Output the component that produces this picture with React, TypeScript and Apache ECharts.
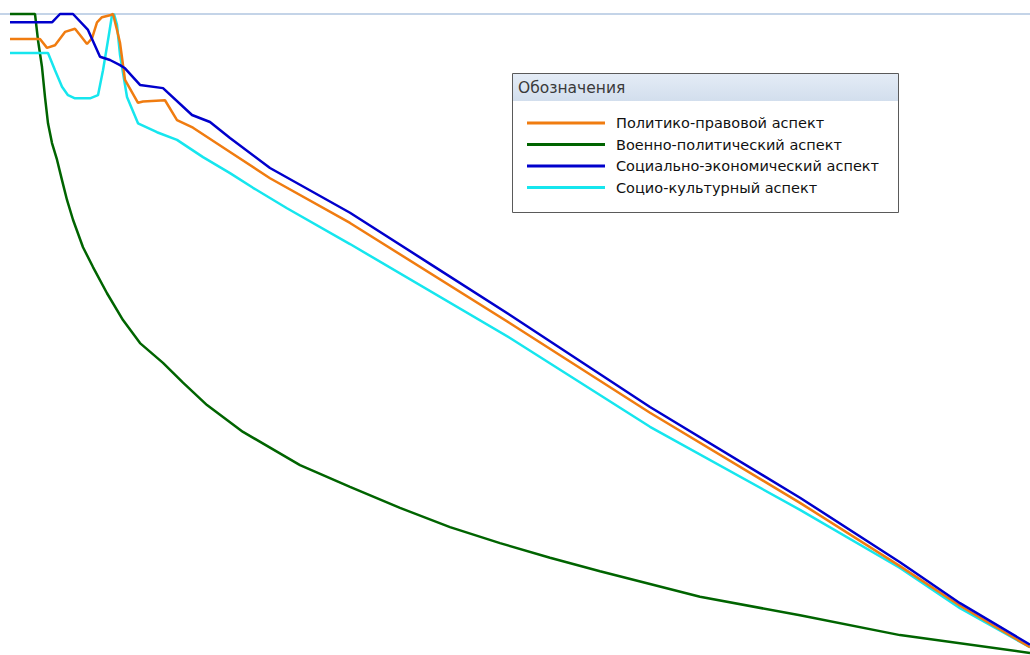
import React, { useEffect, useRef } from "react";
import * as echarts from "echarts";

const SERIES_NAMES = [
  "Политико-правовой аспект",
  "Военно-политический аспект",
  "Социально-экономический аспект",
  "Социо-культурный аспект",
];
const LEGEND_TITLE = "Обозначения";

const X_POLIT = [0, 6, 7.4, 9, 11, 13, 14, 15.4, 16.4, 17.4, 18.4, 20, 20.6, 21.4, 22, 23, 25.6, 26.6, 31, 33.4, 36.6, 44, 52, 68, 100, 128, 158, 178, 190, 204];
const Y_POLIT = [96.1, 96.1, 94.7, 95.1, 97.2, 97.7, 96.7, 95.3, 96.2, 98.7, 99.5, 99.8, 100, 97.5, 95.5, 89.7, 86.1, 86.3, 86.5, 83.4, 82.2, 78.4, 74.3, 67.3, 51.6, 37.6, 23.5, 13.6, 7.4, 0.9];

const X_MILIT = [0, 5, 5.6, 6.4, 7, 7.6, 8.4, 9.4, 10.4, 11.4, 12.6, 14.6, 16.6, 19.4, 22.6, 26, 30.6, 34.6, 39.4, 46.6, 58, 68, 78, 88, 98, 108, 118, 138, 158, 178, 204];
const Y_MILIT = [100, 100, 95.9, 91.7, 87.0, 82.9, 79.8, 77.2, 74.0, 70.9, 67.8, 63.5, 60.4, 56.3, 52.1, 48.5, 45.4, 42.3, 38.8, 34.6, 29.4, 26.0, 22.7, 19.7, 17.2, 14.9, 12.8, 8.8, 5.9, 2.8, 0];

const X_SOCEC = [0, 8.4, 10, 12.6, 15.6, 18, 20, 22, 23, 26, 30.6, 36.4, 40, 44, 52, 68, 84, 100, 128, 158, 178, 190, 204];
const Y_SOCEC = [98.7, 98.7, 100, 100, 97.5, 93.3, 92.8, 92.0, 91.5, 88.9, 88.4, 84.2, 83.1, 80.6, 75.9, 68.9, 60.9, 52.9, 38.5, 24.3, 14.2, 7.8, 1.3];

const X_CULT = [0, 7.6, 9, 10.4, 11.6, 13, 16, 17.6, 18.6, 19.6, 20.4, 20.8, 21.4, 22, 23.4, 25.6, 29.4, 33.4, 38.6, 44, 48.6, 55.4, 68, 100, 128, 158, 178, 190, 204];
const Y_CULT = [93.9, 93.9, 91.2, 88.6, 87.3, 86.8, 86.8, 87.3, 91.2, 95.9, 99.8, 100, 98.3, 93.6, 87.0, 82.9, 81.5, 80.3, 77.6, 75.1, 72.8, 69.6, 64.0, 49.3, 35.4, 22.4, 13.3, 7.0, 0.9];

const COLORS = ["#f07c10", "#006400", "#0000cc", "#16e6ee"];

const zip = (xs: number[], ys: number[]) => xs.map((x, i) => [x, ys[i]]);

export default function App() {
  const ref = useRef<HTMLDivElement>(null);
  useEffect(() => {
    if (!ref.current) return;
    const chart = echarts.init(ref.current, undefined, { renderer: "svg" });
    const datasets = [
      zip(X_POLIT, Y_POLIT),
      zip(X_MILIT, Y_MILIT),
      zip(X_SOCEC, Y_SOCEC),
      zip(X_CULT, Y_CULT),
    ];
    const drawOrder = [1, 3, 0, 2];
    chart.setOption({
      animation: false,
      backgroundColor: "#ffffff",
      grid: { left: 10, right: 0, top: 14, bottom: 2 },
      xAxis: { type: "value", min: 0, max: 204, show: false },
      yAxis: { type: "value", min: 0, max: 100, show: false },
      legend: {
        data: SERIES_NAMES,
        orient: "vertical",
        left: 527,
        top: 115,
        padding: 0,
        icon: "rect",
        itemWidth: 78,
        itemHeight: 3,
        itemGap: 5.5,
        selectedMode: false,
        textStyle: {
          fontFamily: "DejaVu Sans",
          fontSize: 14.5,
          color: "#111",
          padding: [0, 0, 0, 6],
          lineHeight: 16,
        },
        z: 20,
      },
      graphic: [
        {
          type: "line",
          shape: { x1: 0, y1: 14, x2: 1030, y2: 14 },
          style: { stroke: "#c4d4e8", lineWidth: 2 },
          z: 0,
        },
        {
          type: "rect",
          shape: { x: 512.5, y: 73.5, width: 386, height: 139 },
          style: { fill: "#ffffff", stroke: "#5a5a5a", lineWidth: 1 },
          z: 10,
        },
        {
          type: "rect",
          shape: { x: 513, y: 74, width: 385, height: 27 },
          style: {
            fill: new echarts.graphic.LinearGradient(0, 0, 0, 1, [
              { offset: 0, color: "#e4ecf6" },
              { offset: 1, color: "#d2deed" },
            ]),
          },
          z: 11,
        },
        {
          type: "text",
          x: 518,
          y: 88,
          style: {
            text: LEGEND_TITLE,
            fontFamily: "DejaVu Sans",
            fontSize: 15.5,
            fill: "#3a3a3a",
            verticalAlign: "middle",
          },
          z: 12,
        },
      ],
      series: drawOrder.map((i) => ({
        name: SERIES_NAMES[i],
        type: "line",
        data: datasets[i],
        showSymbol: false,
        symbol: "none",
        clip: false,
        lineStyle: { color: COLORS[i], width: 2.5 },
        itemStyle: { color: COLORS[i] },
        z: 2 + drawOrder.indexOf(i),
      })),
    });
    return () => chart.dispose();
  }, []);
  return (
    <div
      ref={ref}
      style={{ position: "fixed", left: 0, top: 0, width: 1030, height: 655 }}
    />
  );
}
